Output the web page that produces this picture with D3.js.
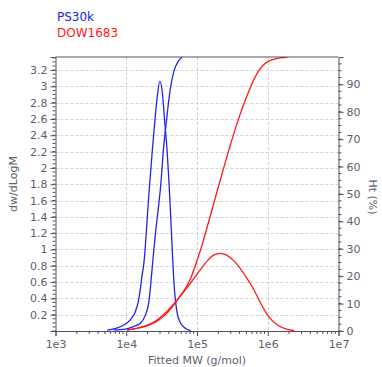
<!DOCTYPE html>
<html>
<head>
<meta charset="utf-8">
<script src="https://cdn.jsdelivr.net/npm/d3@7"></script>
<style>
  body { margin: 0; background: #fff; }
  text { font-family: "DejaVu Sans", Verdana, sans-serif; }
</style>
</head>
<body>
<svg></svg>
<script>
// Chart data (x values are log10 of MW)
const seriesNames = ['PS30k', 'DOW1683'];
const seriesColors = ['#2222ee', '#ff1a1a'];

// PS30k differential (dw/dLogM)
const psDiffLogM = [3.73, 3.84, 3.96, 4.06, 4.13, 4.17, 4.20, 4.22, 4.245, 4.26, 4.29, 4.326, 4.369, 4.404, 4.435, 4.475, 4.515, 4.54, 4.577, 4.605, 4.628, 4.65, 4.668, 4.69, 4.72, 4.76, 4.79, 4.85, 4.91];
const psDiff = [0.01, 0.03, 0.07, 0.14, 0.24, 0.36, 0.52, 0.66, 0.80, 0.93, 1.30, 1.75, 2.22, 2.57, 2.85, 3.06, 2.88, 2.60, 2.22, 1.81, 1.40, 1.00, 0.68, 0.42, 0.22, 0.11, 0.07, 0.025, 0.005];

// PS30k cumulative (%)
const psCumLogM = [3.82, 3.99, 4.10, 4.20, 4.27, 4.32, 4.345, 4.37, 4.41, 4.45, 4.49, 4.525, 4.567, 4.624, 4.671, 4.738, 4.79];
const psCum = [0.4, 0.7, 1.6, 2.8, 5.8, 10.7, 16.8, 24, 35, 44, 54, 66, 76.4, 88.6, 94.6, 98.5, 100];

// DOW1683 differential (dw/dLogM)
const dowDiffLogM = [4.01, 4.20, 4.435, 4.58, 4.72, 4.91, 5.02, 5.145, 5.234, 5.333, 5.418, 5.522, 5.60, 5.68, 5.783, 5.877, 5.996, 6.138, 6.279, 6.373];
const dowDiff = [0.012, 0.043, 0.135, 0.245, 0.38, 0.59, 0.72, 0.86, 0.93, 0.953, 0.93, 0.86, 0.78, 0.68, 0.54, 0.38, 0.196, 0.074, 0.02, 0.006];

// DOW1683 cumulative (%)
const dowCumLogM = [4.01, 4.20, 4.435, 4.58, 4.72, 4.91, 5.05, 5.25, 5.45, 5.55, 5.65, 5.74, 5.85, 6.00, 6.18, 6.28];
const dowCum = [0.4, 1.2, 3.6, 6.6, 11.3, 19.2, 29.6, 47.8, 66.0, 74.5, 82.0, 88.0, 94.0, 98.3, 99.7, 100];

const xTickValues = [1e3, 1e4, 1e5, 1e6, 1e7];
const xTickLabels = ['1e3', '1e4', '1e5', '1e6', '1e7'];

// Set dimensions
const width = 382, height = 367;
const margin = { top: 57, right: 44, bottom: 36, left: 55 };
const svg = d3.select('svg')
    .attr('width', width)
    .attr('height', height);

const axisColor = '#4b5263';
const textColor = '#5b6070';
const gridColor = '#d4d4d4';

const x = d3.scaleLog()
    .domain([1e3, 1e7])
    .range([margin.left + 0.5, width - margin.right + 0.5]);
const yL = d3.scaleLinear()
    .domain([0, 3.36])
    .range([height - margin.bottom, margin.top]);
const yR = d3.scaleLinear()
    .domain([0, 100])
    .range([height - margin.bottom, margin.top]);

const x0 = x.range()[0], x1 = x.range()[1];
const yBot = yL.range()[0], yTop = yL.range()[1];

// Grid lines
const grid = svg.append('g');
d3.range(0.2, 3.3, 0.2).forEach(v => {
    grid.append('line')
        .attr('x1', x0).attr('x2', x1)
        .attr('y1', Math.round(yL(v)) + 0.5).attr('y2', Math.round(yL(v)) + 0.5)
        .attr('stroke', gridColor).attr('stroke-dasharray', '3,2');
});
[1e4, 1e5, 1e6].forEach(v => {
    grid.append('line')
        .attr('x1', Math.round(x(v)) + 0.5).attr('x2', Math.round(x(v)) + 0.5)
        .attr('y1', yTop).attr('y2', yBot)
        .attr('stroke', gridColor).attr('stroke-dasharray', '3,2');
});

// Curves
const line = (scaleY) => d3.line()
    .x(d => x(Math.pow(10, d[0])))
    .y(d => scaleY(d[1]))
    .curve(d3.curveMonotoneX);

const curves = [
    { lx: psDiffLogM, ly: psDiff, scale: yL, color: seriesColors[0] },
    { lx: psCumLogM, ly: psCum, scale: yR, color: seriesColors[0] },
    { lx: dowDiffLogM, ly: dowDiff, scale: yL, color: seriesColors[1] },
    { lx: dowCumLogM, ly: dowCum, scale: yR, color: seriesColors[1] }
];
svg.append('defs').append('clipPath').attr('id', 'plot')
    .append('rect').attr('x', x0).attr('y', yTop).attr('width', x1 - x0).attr('height', yBot - yTop);
svg.append('g').attr('clip-path', 'url(#plot)')
    .selectAll('path')
    .data(curves)
    .enter().append('path')
    .attr('d', c => line(c.scale)(c.lx.map((v, i) => [v, c.ly[i]])))
    .attr('fill', 'none')
    .attr('stroke', c => c.color)
    .attr('stroke-width', 1.3);

// Axes
const leftAxis = svg.append('g')
    .attr('transform', `translate(${x0},0)`)
    .call(d3.axisLeft(yL)
        .tickValues(d3.range(0.2, 3.3, 0.2))
        .tickFormat(d => d3.format('~g')(+d.toFixed(1)))
        .tickSize(5).tickPadding(3));
leftAxis.append('g').selectAll('line')
    .data(d3.range(0, 3.36, 0.05))
    .enter().append('line')
    .attr('x1', -3).attr('x2', 0)
    .attr('y1', d => yL(d)).attr('y2', d => yL(d));

const rightAxis = svg.append('g')
    .attr('transform', `translate(${x1},0)`)
    .call(d3.axisRight(yR)
        .tickValues(d3.range(0, 100, 10))
        .tickSize(5).tickPadding(3));
rightAxis.append('g').selectAll('line')
    .data(d3.range(0, 100, 2.5))
    .enter().append('line')
    .attr('x1', 0).attr('x2', 3)
    .attr('y1', d => yR(d)).attr('y2', d => yR(d));

const minorX = [];
[1e3, 1e4, 1e5, 1e6].forEach(dec => d3.range(2, 10).forEach(k => minorX.push(dec * k)));
const bottomAxis = svg.append('g')
    .attr('transform', `translate(0,${yBot})`)
    .call(d3.axisBottom(x)
        .tickValues(xTickValues)
        .tickFormat((d, i) => xTickLabels[i])
        .tickSize(5).tickPadding(4));
bottomAxis.append('g').selectAll('line')
    .data(minorX)
    .enter().append('line')
    .attr('y1', 0).attr('y2', 3)
    .attr('x1', d => x(d)).attr('x2', d => x(d));

// Top border
svg.append('line')
    .attr('x1', x0).attr('x2', x1)
    .attr('y1', yTop).attr('y2', yTop)
    .attr('stroke', axisColor);

[leftAxis, rightAxis, bottomAxis].forEach(a => {
    a.selectAll('path.domain').attr('stroke', axisColor);
    a.selectAll('line').attr('stroke', axisColor);
    a.selectAll('text').attr('fill', textColor).style('font-size', '11px');
});

// Axis titles
svg.append('text')
    .attr('transform', `translate(17,${(yTop + yBot) / 2 - 10}) rotate(-90)`)
    .attr('text-anchor', 'middle')
    .attr('fill', textColor)
    .style('font-size', '11px')
    .text('dw/dLogM');
svg.append('text')
    .attr('transform', `translate(369,${(yTop + yBot) / 2 + 3}) rotate(90)`)
    .attr('text-anchor', 'middle')
    .attr('fill', textColor)
    .style('font-size', '11px')
    .text('Ht (%)');
svg.append('text')
    .attr('x', (x0 + x1) / 2)
    .attr('y', 364)
    .attr('text-anchor', 'middle')
    .attr('fill', textColor)
    .style('font-size', '11px')
    .text('Fitted MW (g/mol)');

// Legend
seriesNames.forEach((name, i) => {
    svg.append('text')
        .attr('x', 57)
        .attr('y', 21 + i * 16)
        .attr('fill', seriesColors[i])
        .style('font-size', '12px')
        .text(name);
});
</script>
</body>
</html>
